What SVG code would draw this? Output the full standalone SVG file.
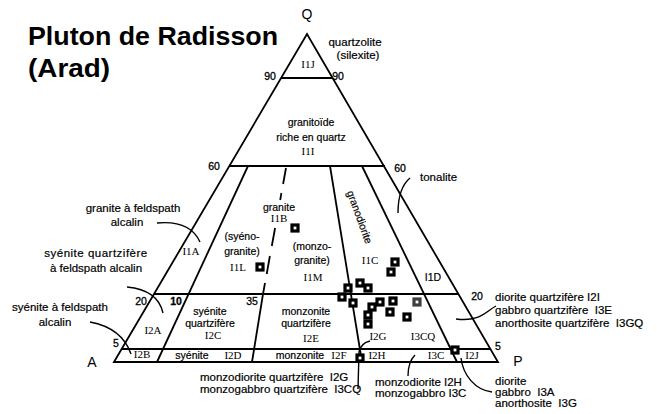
<svg xmlns="http://www.w3.org/2000/svg" xmlns:xlink="http://www.w3.org/1999/xlink" width="657" height="414" viewBox="0 0 657 414">
<style>
.ln{stroke:#000;stroke-width:1.8;fill:none}
.dash{stroke:#000;stroke-width:1.8;fill:none}
.ld{stroke:#000;stroke-width:1.4;fill:none}
.mk{fill:#fff;stroke:#000;stroke-width:3.2}
.t{font-family:"Liberation Sans",Arial,sans-serif;font-size:10.5px;fill:#000;stroke:#000;stroke-width:0.2}
.a{font-family:"Liberation Sans",Arial,sans-serif;font-size:11.5px;fill:#000;stroke:#000;stroke-width:0.2}
.n{font-family:"Liberation Sans",Arial,sans-serif;font-size:10.5px;fill:#000;stroke:#000;stroke-width:0.3}
.c{font-family:"Liberation Serif","Times New Roman",serif;font-size:11px;fill:#000}
.m{text-anchor:middle}
.h{font-family:"Liberation Sans",Arial,sans-serif;font-weight:bold;font-size:26px;fill:#000}
.v{font-family:"Liberation Sans",Arial,sans-serif;font-size:14px;fill:#000}
</style>
<defs>
<rect id="mk" class="mk" x="-3" y="-3" width="6" height="6"/>
</defs>
<rect width="657" height="414" fill="#fff"/>
<g id="title">
<text class="h" x="28" y="45" textLength="250" lengthAdjust="spacingAndGlyphs">Pluton de Radisson</text>
<text class="h" x="28" y="77" textLength="82" lengthAdjust="spacingAndGlyphs">(Arad)</text>
</g>
<g id="triangle">
<path class="ln" d="M114,362 L307,34 L498,362 Z"/>
<line class="ln" x1="281" y1="78" x2="332" y2="78"/>
<line class="ln" x1="229" y1="166" x2="385" y2="166"/>
<line class="ln" x1="154" y1="294" x2="458" y2="294"/>
<line class="ln" x1="122" y1="349" x2="491" y2="349"/>
<line class="ln" x1="248" y1="166" x2="157" y2="362"/>
<path class="dash" d="M286,168 L283.1,184 M281.4,193 L280.2,200 M275.1,228 L271.8,246 M269.9,256 L266.7,274 M265,283 L263,294"/>
<line class="ln" x1="263" y1="294" x2="252" y2="362"/>
<line class="ln" x1="330" y1="166" x2="362" y2="362"/>
<line class="ln" x1="362" y1="166" x2="457" y2="362"/>
</g>
<g id="vertices">
<text class="v m" x="307" y="19" font-size="13">Q</text>
<text class="v m" x="92" y="367" font-size="15">A</text>
<text class="v m" x="518" y="366" font-size="15">P</text>
</g>
<g id="ticks">
<text class="n m" x="270" y="80">90</text>
<text class="n m" x="338" y="80">90</text>
<text class="n m" x="214" y="170">60</text>
<text class="n m" x="400" y="172">60</text>
<text class="n m" x="141" y="305">20</text>
<text class="n m" x="176" y="305" font-weight="bold" font-size="11.5">10</text>
<text class="n m" x="252" y="305">35</text>
<text class="n m" x="116" y="347">5</text>
<text class="n m" x="477" y="300">20</text>
<text class="n m" x="498" y="350">5</text>
</g>
<g id="fields">
<text class="c m" x="308" y="68">I1J</text>
<text class="t m" x="311" y="126">granitoïde</text>
<text class="t m" x="311" y="141">riche en quartz</text>
<text class="c m" x="308" y="155">I1I</text>
<text class="c m" x="191" y="255">I1A</text>
<text class="t m" x="242" y="240">(syéno-</text>
<text class="t m" x="242" y="255">granite)</text>
<text class="c m" x="238" y="271">I1L</text>
<text class="t m" x="279" y="211">granite</text>
<text class="c m" x="279" y="222">I1B</text>
<text class="t m" x="312" y="250">(monzo-</text>
<text class="t m" x="312" y="264">granite)</text>
<text class="c m" x="313" y="281">I1M</text>
<text class="t m" font-size="11.5" transform="translate(360,217) rotate(70)" y="4">granodiorite</text>
<text class="c m" x="370" y="264">I1C</text>
<text class="t m" x="433" y="281" font-size="11">I1D</text>
<text class="c m" x="153" y="334">I2A</text>
<text class="t m" x="210" y="315">syénite</text>
<text class="t m" x="210" y="327">quartzifère</text>
<text class="c m" x="213" y="339">I2C</text>
<text class="t m" x="306" y="315">monzonite</text>
<text class="t m" x="306" y="327">quartzifère</text>
<text class="c m" x="311" y="342">I2E</text>
<text class="c m" x="378" y="340">I2G</text>
<text class="c m" x="423" y="340">I3CQ</text>
<text class="c m" x="142" y="358" fill="#777">I2B</text>
<text class="t m" x="192" y="359">syénite</text>
<text class="c m" x="233" y="359">I2D</text>
<text class="t m" x="300" y="359">monzonite</text>
<text class="c m" x="339" y="359">I2F</text>
<text class="c m" x="377" y="359">I2H</text>
<text class="c m" x="436" y="359">I3C</text>
<text class="c m" x="472" y="359">I2J</text>
</g>
<g id="annotations">
<text class="a m" x="355" y="46" font-size="10.5">quartzolite</text>
<text class="a m" x="358" y="59" font-size="10.5">(silexite)</text>
<text class="a m" x="133" y="212">granite à feldspath</text>
<text class="a m" x="127" y="226">alcalin</text>
<text class="a m" x="96" y="257" letter-spacing="0.5">syénite quartzifère</text>
<text class="a m" x="96" y="272" font-size="11">à feldspath alcalin</text>
<text class="a m" x="60" y="311">syénite à feldspath</text>
<text class="a m" x="55" y="326">alcalin</text>
<text class="a" x="420" y="181" font-size="11">tonalite</text>
<text class="a" x="495" y="301" font-size="10.5">diorite quartzifère I2I</text>
<text class="a" x="495" y="314">gabbro quartzifère&#160; I3E</text>
<text class="a" x="495" y="327">anorthosite quartzifère&#160; I3GQ</text>
<text class="a" x="200" y="381">monzodiorite quartzifère&#160; I2G</text>
<text class="a" x="200" y="393" font-size="11.2">monzogabbro quartzifère&#160; I3CQ</text>
<text class="a" x="375" y="386" font-size="10">monzodiorite I2H</text>
<text class="a" x="375" y="397" font-size="10">monzogabbro I3C</text>
<text class="a" x="495" y="385" font-size="11">diorite</text>
<text class="a" x="495" y="396" font-size="11">gabbro&#160; I3A</text>
<text class="a" x="495" y="407" font-size="11">anorthosite&#160; I3G</text>
</g>
<g id="connectors">
<path class="ld" d="M157,223 Q190,220 200,242"/>
<path class="ld" d="M127,287 Q158,290 163,313"/>
<path class="ld" d="M90,322 Q122,328 131,354"/>
<path class="ld" d="M410,178 Q398,188 398,213"/>
<path class="ld" d="M496,306 C485,312 480,322 456,319"/>
<path class="ld" d="M408,376 Q408,362 415,355"/>
<path class="ld" d="M358,389 L359,352 Q361,343 370,341"/>
<path class="ld" d="M461,358 C463,375 475,390 492,392"/>
</g>
<g id="samples">
<use xlink:href="#mk" x="295" y="228"/>
<use xlink:href="#mk" x="260" y="267"/>
<use xlink:href="#mk" x="395" y="262"/>
<use xlink:href="#mk" x="391" y="272"/>
<use xlink:href="#mk" x="360" y="283"/>
<use xlink:href="#mk" x="348" y="288"/>
<use xlink:href="#mk" x="368" y="288"/>
<use xlink:href="#mk" x="342" y="297"/>
<use xlink:href="#mk" x="353" y="303"/>
<use xlink:href="#mk" x="372" y="307"/>
<use xlink:href="#mk" x="380" y="302"/>
<use xlink:href="#mk" x="393" y="301"/>
<use xlink:href="#mk" x="390" y="312"/>
<use xlink:href="#mk" x="368" y="315"/>
<use xlink:href="#mk" x="368" y="324"/>
<use xlink:href="#mk" x="407" y="317"/>
<use xlink:href="#mk" x="417" y="302" opacity="0.75"/>
<use xlink:href="#mk" x="455" y="350"/>
<use xlink:href="#mk" x="360" y="358"/>
</g>
</svg>
